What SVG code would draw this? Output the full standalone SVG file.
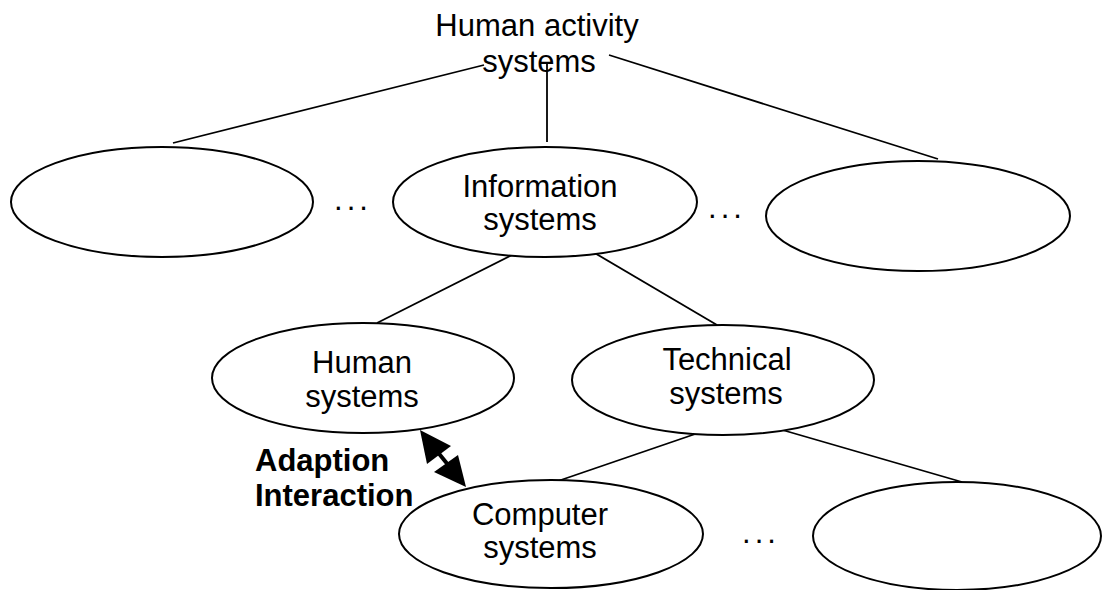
<svg xmlns="http://www.w3.org/2000/svg" width="1111" height="590" viewBox="0 0 1111 590">
  <style>
    .node { fill: #fff; stroke: #000; stroke-width: 2; }
    .edge { stroke: #000; stroke-width: 1.8; fill: none; }
    .lbl { font-family: "Liberation Sans", Arial, sans-serif; font-size: 31px; fill: #000; text-anchor: middle; }
    .bold { font-weight: bold; text-anchor: start; }
  </style>
  <rect width="1111" height="590" fill="#fff"/>

  <!-- tree connectors -->
  <g id="connectors">
    <line class="edge" x1="484" y1="65" x2="173" y2="143"/>
    <line class="edge" x1="547" y1="64" x2="547" y2="142"/>
    <line class="edge" x1="609" y1="55" x2="938" y2="159"/>
    <line class="edge" x1="514" y1="254" x2="377" y2="323"/>
    <line class="edge" x1="593" y1="252" x2="717" y2="325"/>
    <line class="edge" x1="704" y1="431" x2="558" y2="481"/>
    <line class="edge" x1="779" y1="429" x2="962" y2="482"/>
    <!-- two-way arrow between human and computer systems -->
    <g id="adaption-arrow" fill="#000">
      <line x1="436" y1="450" x2="449" y2="466" stroke="#000" stroke-width="4"/>
      <polygon points="420,430 451,446 427,464"/>
      <polygon points="466,487 434,472 458,455"/>
    </g>
  </g>

  <!-- root label -->
  <g id="root">
    <text class="lbl" x="537" y="36">Human activity</text>
    <text class="lbl" x="539" y="72">systems</text>
  </g>

  <g id="other-left">
    <ellipse class="node" cx="162" cy="202" rx="151" ry="55"/>
  </g>
  <g id="information-systems">
    <ellipse class="node" cx="545" cy="202" rx="152" ry="55"/>
    <text class="lbl" x="540" y="197">Information</text>
    <text class="lbl" x="540" y="230">systems</text>
  </g>
  <g id="other-right">
    <ellipse class="node" cx="918" cy="216" rx="152" ry="55"/>
  </g>
  <g id="human-systems">
    <ellipse class="node" cx="363" cy="378" rx="151" ry="55"/>
    <text class="lbl" x="362" y="373">Human</text>
    <text class="lbl" x="362" y="407">systems</text>
  </g>
  <g id="technical-systems">
    <ellipse class="node" cx="723" cy="380" rx="151" ry="55"/>
    <text class="lbl" x="727" y="370">Technical</text>
    <text class="lbl" x="726" y="404">systems</text>
  </g>
  <g id="computer-systems">
    <ellipse class="node" cx="551" cy="534" rx="152" ry="54"/>
    <text class="lbl" x="540" y="525">Computer</text>
    <text class="lbl" x="540" y="558">systems</text>
  </g>
  <g id="other-bottom">
    <ellipse class="node" cx="957" cy="536" rx="144" ry="54"/>
  </g>

  <!-- ellipsis markers between siblings -->
  <g id="ellipses" class="lbl" letter-spacing="4">
    <text x="353" y="210">...</text>
    <text x="727" y="218">...</text>
    <text x="761" y="543">...</text>
  </g>

  <g id="adaption-label">
    <text class="lbl bold" x="255" y="471">Adaption</text>
    <text class="lbl bold" x="255" y="506">Interaction</text>
  </g>
</svg>
